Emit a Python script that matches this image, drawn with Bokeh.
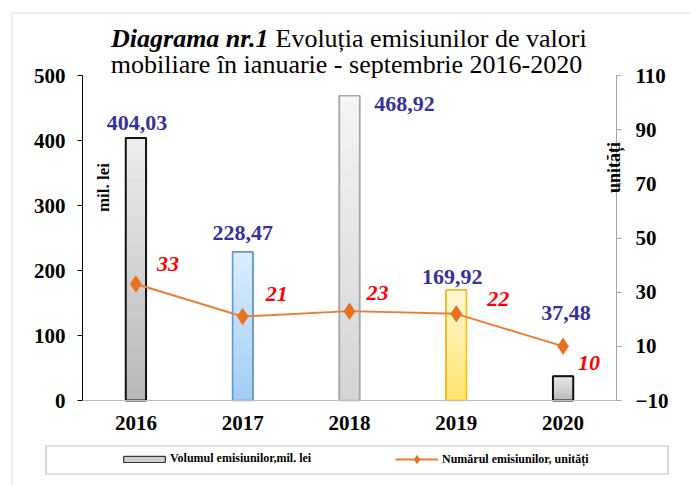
import numpy as np
from bokeh.plotting import figure
from bokeh.models import (FactorRange, Range1d, LinearAxis, CategoricalAxis, FixedTicker,
                          ColumnDataSource, LabelSet, Label, Legend, LegendItem, BoxAnnotation)
from bokeh.core.properties import value
from bokeh.embed import file_html
from bokeh.resources import INLINE

# ---- data ----
years = ["2016", "2017", "2018", "2019", "2020"]
volume = [404.03, 228.47, 468.92, 169.92, 37.48]      # mil. lei
count = [33, 21, 23, 22, 10]                          # unități
left_ticks = [0, 100, 200, 300, 400, 500]
right_ticks = [-10, 10, 30, 50, 70, 90, 110]

# ---- layout / styles ----
W, H = 690, 485
FRAME_LEFT = 8                 # canvas x where the drawing frame starts
AX_L, AX_R = 82, 616           # plot-area pixel edges (x)
AX_T, AX_B = 75, 400           # plot-area pixel edges (y)
FONT = "Liberation Serif"
BAR_W = 0.19
bar_top_colors = ["#ededed", "#dcedfd", "#f5f5f5", "#fff7d6", "#ededed"]
bar_bot_colors = ["#b8b8b8", "#a3cdf5", "#d4d4d4", "#ffe570", "#b8b8b8"]
bar_line_colors = ["#111111", "#5b9bd5", "#a6a6a6", "#ffc000", "#111111"]
bar_line_widths = [2, 1.6, 1.6, 1.6, 2]
# label offsets (screen px) relative to bar top / marker
vol_dx = [1, 0, 55, -4, 3]
vol_dy = [15, 19, -8, 13, 63]
cnt_dx = [32, 34, 28, 42, 26]
cnt_dy = [20, 23, 18, 15, -17]


def mix(c1, c2, f):
    a = [int(c1[i:i + 2], 16) for i in (1, 3, 5)]
    b = [int(c2[i:i + 2], 16) for i in (1, 3, 5)]
    return "#" + "".join(f"{int(round(a[j] + (b[j] - a[j]) * f)):02x}" for j in range(3))


def sx(px):  # page x -> screen units relative to frame
    return px - FRAME_LEFT


def sy(py):  # page y -> screen units (up from frame bottom)
    return H - py


# ranges so that the data area lands on the wanted pixels while the frame fills the canvas
n = len(years)
unit = (AX_R - AX_L) / n
pad = (AX_L - FRAME_LEFT) / unit
xr = FactorRange(factors=years, range_padding=2 * pad / n, range_padding_units="percent")


def yrange(lo, hi):
    k = (AX_B - AX_T) / (hi - lo)
    return Range1d(lo - (H - AX_B) / k, hi + AX_T / k)


p = figure(width=W, height=H, x_range=xr, y_range=yrange(0, 500),
           x_axis_location=None, y_axis_location=None,
           output_backend="svg", toolbar_location=None,
           min_border=0, min_border_left=FRAME_LEFT)
p.extra_y_ranges = {"cnt": yrange(-10, 110)}
p.outline_line_color = None
p.xgrid.visible = False
p.ygrid.visible = False
p.background_fill_color = "white"
p.border_fill_color = "white"

# base bars (also serve as legend glyph)
bar_base = p.vbar(x=years, top=volume, width=BAR_W, fill_color="#d0d0d0",
                  line_color="#111111", line_width=1)

# gradient fill
N = 40
gx, gb, gt, gc = [], [], [], []
for i, (yr, v) in enumerate(zip(years, volume)):
    for k in range(N):
        gx.append(yr)
        gb.append(v * k / N)
        gt.append(min(v, v * (k + 1.4) / N))
        gc.append(mix(bar_bot_colors[i], bar_top_colors[i], (k + 0.5) / N))
p.vbar(x=gx, bottom=gb, top=gt, width=BAR_W, fill_color=gc, line_color=None)

# bar outlines
p.vbar(x=years, top=volume, width=BAR_W, fill_color=None,
       line_color=bar_line_colors, line_width=bar_line_widths)

# line series
ln = p.line(x=years, y=count, y_range_name="cnt", line_color="#ed7d31", line_width=2)
mk = p.scatter(x=years, y=count, y_range_name="cnt", marker="diamond", size=16,
               fill_color="#e8711f", line_color="#e8711f")

# value labels
vsrc = ColumnDataSource(dict(x=years, y=volume,
                             t=[f"{v:.2f}".replace(".", ",") for v in volume],
                             dx=vol_dx, dy=vol_dy))
p.add_layout(LabelSet(x="x", y="y", text="t", source=vsrc, x_offset="dx", y_offset="dy",
                      text_align="center", text_baseline="middle",
                      text_font=value(FONT), text_font_style="bold",
                      text_font_size="22px", text_color="#333399"))
csrc = ColumnDataSource(dict(x=years, y=count, t=[str(c) for c in count],
                             dx=cnt_dx, dy=cnt_dy))
p.add_layout(LabelSet(x="x", y="y", text="t", source=csrc, x_offset="dx", y_offset="dy",
                      y_range_name="cnt",
                      text_align="center", text_baseline="middle",
                      text_font=value(FONT), text_font_style="bold italic",
                      text_font_size="22px", text_color="#ff0000"))

# axes (drawn at fixed locations inside the canvas-wide frame)
def style_axis(ax):
    ax.major_tick_out = 5
    ax.major_tick_in = 0
    ax.minor_tick_line_color = None
    ax.major_label_text_font = FONT
    ax.major_label_text_font_style = "bold"
    ax.major_label_text_font_size = "21px"
    ax.major_label_text_color = "#000000"


ya = LinearAxis(ticker=FixedTicker(ticks=left_ticks), fixed_location=0,
                bounds=(left_ticks[0], left_ticks[-1]))
style_axis(ya)
ya.axis_line_color = "#000000"
ya.major_tick_line_color = "#000000"
ya.major_label_standoff = 12
p.add_layout(ya, "left")

ra = LinearAxis(y_range_name="cnt", ticker=FixedTicker(ticks=right_ticks),
                fixed_location=n, bounds=(right_ticks[0], right_ticks[-1]))
style_axis(ra)
ra.axis_line_color = "#a6a6a6"
ra.major_tick_line_color = "#a6a6a6"
ra.major_label_standoff = 14
p.add_layout(ra, "right")

xa = CategoricalAxis(fixed_location=0, bounds=(0, n))
style_axis(xa)
xa.axis_line_color = "#bfbfbf"
xa.major_tick_line_color = None
xa.major_label_standoff = 10
p.add_layout(xa, "below")

# axis titles
p.add_layout(Label(x=sx(103), y=sy(187), x_units="screen", y_units="screen", text="mil. lei",
                   angle=np.pi / 2, text_align="center", text_baseline="middle",
                   text_font=FONT, text_font_style="bold", text_font_size="17px",
                   text_color="#000000"))
p.add_layout(Label(x=sx(613), y=sy(167), x_units="screen", y_units="screen", text="unități",
                   angle=np.pi / 2, text_align="center", text_baseline="middle",
                   text_font=FONT, text_font_style="bold", text_font_size="18px",
                   text_color="#000000"))

# title
p.add_layout(Label(x=sx(268), y=sy(38), x_units="screen", y_units="screen", text="Diagrama nr.1",
                   text_align="right", text_baseline="middle", text_font=FONT,
                   text_font_style="bold italic", text_font_size="26px", text_color="#000000"))
p.add_layout(Label(x=sx(275), y=sy(38), x_units="screen", y_units="screen",
                   text="Evoluția emisiunilor de valori",
                   text_align="left", text_baseline="middle", text_font=FONT,
                   text_font_style="normal", text_font_size="26px", text_color="#000000"))
p.add_layout(Label(x=sx(346), y=sy(64), x_units="screen", y_units="screen",
                   text="mobiliare în ianuarie - septembrie 2016-2020",
                   text_align="center", text_baseline="middle", text_font=FONT,
                   text_font_style="normal", text_font_size="26px", text_color="#000000"))

# outer frame (left and top edges visible) and legend box
p.add_layout(BoxAnnotation(left=sx(11.5), right=sx(2000), top=sy(12.5), bottom=sy(1000),
                           left_units="screen", right_units="screen",
                           top_units="screen", bottom_units="screen",
                           fill_alpha=0, line_color="#8c8c8c", line_width=1))
p.add_layout(BoxAnnotation(left=sx(45.5), right=sx(667.5), top=sy(445.5), bottom=sy(473.5),
                           left_units="screen", right_units="screen",
                           top_units="screen", bottom_units="screen",
                           fill_alpha=0, line_color="#333333", line_width=1.2))

leg_common = dict(orientation="horizontal", border_line_color=None, background_fill_alpha=0,
                  padding=0, margin=0, label_text_font=FONT, label_text_font_style="bold",
                  label_text_font_size="12px", label_text_color="#000000")
leg_a = Legend(items=[LegendItem(label="Volumul emisiunilor,mil. lei", renderers=[bar_base])],
               location=(sx(118), sy(466)), glyph_width=52, glyph_height=8,
               label_height=8, label_standoff=-3, **leg_common)
leg_b = Legend(items=[LegendItem(label="Numărul emisiunilor, unități", renderers=[ln, mk])],
               location=(sx(395), sy(469)), glyph_width=43, glyph_height=20,
               label_height=20, label_standoff=4, **leg_common)
p.add_layout(leg_a)
p.add_layout(leg_b)

open("out.html", "w").write(file_html(p, INLINE))
